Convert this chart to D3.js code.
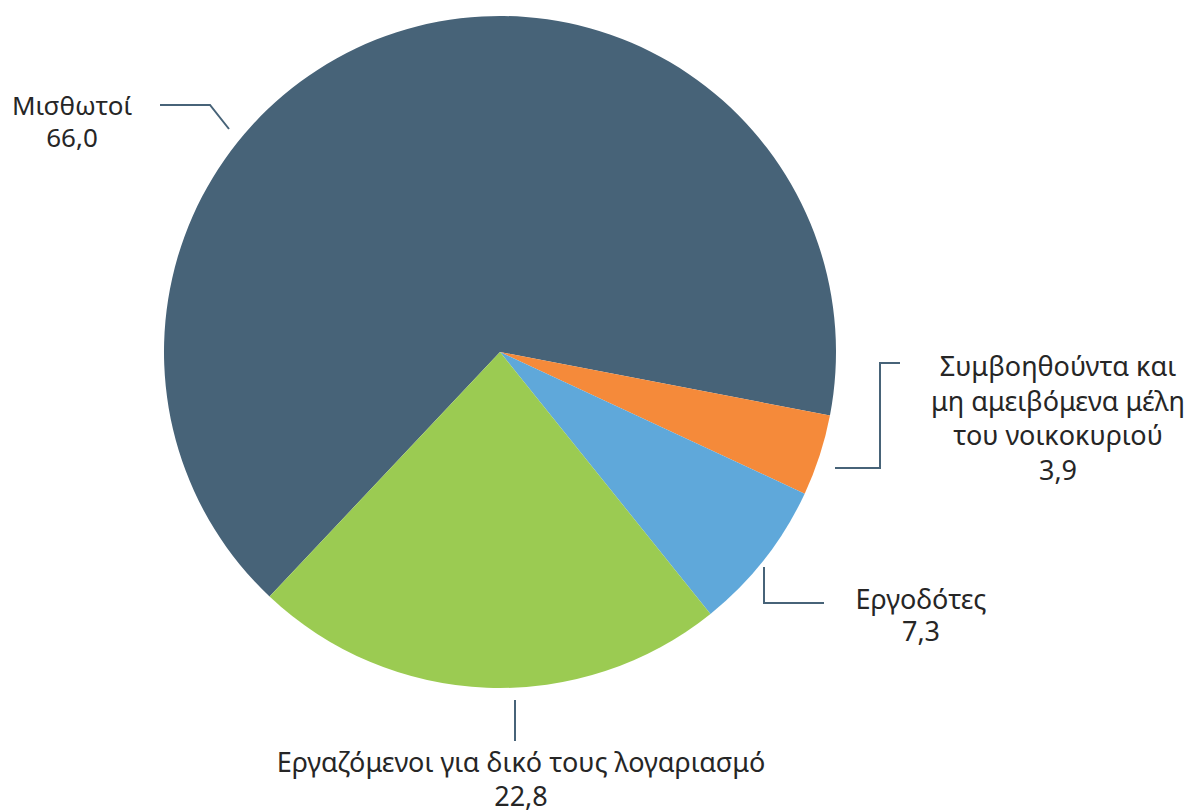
<!DOCTYPE html>
<html><head><meta charset="utf-8">
<script src="https://cdn.jsdelivr.net/npm/d3@7"></script>
<style>body{margin:0;background:#fff}svg{display:block}text{font-family:"Noto Sans",sans-serif;font-size:27px;fill:#262626}</style>
</head><body>
<svg id="c" width="1188" height="812"></svg>
<script>
const categories = ["Μισθωτοί", "Συμβοηθούντα και μη αμειβόμενα μέλη του νοικοκυριού", "Εργοδότες", "Εργαζόμενοι για δικό τους λογαριασμό"];
const values = [66.0, 3.9, 7.3, 22.8];
const valueLabels = ["66,0", "3,9", "7,3", "22,8"];
const labelLines = [["Μισθωτοί"], ["Συμβοηθούντα και", "μη αμειβόμενα μέλη", "του νοικοκυριού"], ["Εργοδότες"], ["Εργαζόμενοι για δικό τους λογαριασμό"]];
const colors = ["#476378", "#F58A3A", "#5FA8DA", "#9BCB52"];

const svg = d3.select("#c");
const cx = 500, cy = 352, R = 336;
const a0 = 223.3 * Math.PI / 180;
const pie = d3.pie().sort(null).startAngle(a0).endAngle(a0 + 2 * Math.PI);
const arcs = pie(values);
const arc = d3.arc().innerRadius(0).outerRadius(R);
const g = svg.append("g").attr("transform", `translate(${cx},${cy})`);
g.selectAll("path").data(arcs).enter().append("path")
  .attr("d", arc).attr("fill", (d, i) => colors[i]);

// label layout (absolute positions) & leader line paths
const layout = [
  {x: 72, y: 115, lh: 32, fs: 26, line: [[160,105],[210,105],[229,129]]},
  {x: 1058, y: 376, lh: 34.7, fs: 27, line: [[900,363],[880,363],[880,468],[835,468]]},
  {x: 921, y: 609, lh: 32, fs: 27, line: [[764,567],[764,603],[824,603]]},
  {x: 521, y: 772, lh: 34, fs: 27, line: [[515,700],[515,741]]}
];
const lineGen = d3.line();
layout.forEach((L, i) => {
  svg.append("path").attr("d", lineGen(L.line)).attr("fill", "none")
    .attr("stroke", "#476378").attr("stroke-width", 2);
  const t = svg.append("text").attr("text-anchor", "middle").style("font-size", L.fs + "px");
  const lines = labelLines[i].concat([valueLabels[i]]);
  lines.forEach((s, k) => {
    t.append("tspan").attr("x", L.x).attr("y", L.y + k * L.lh).text(s);
  });
});
</script>
</body></html>
